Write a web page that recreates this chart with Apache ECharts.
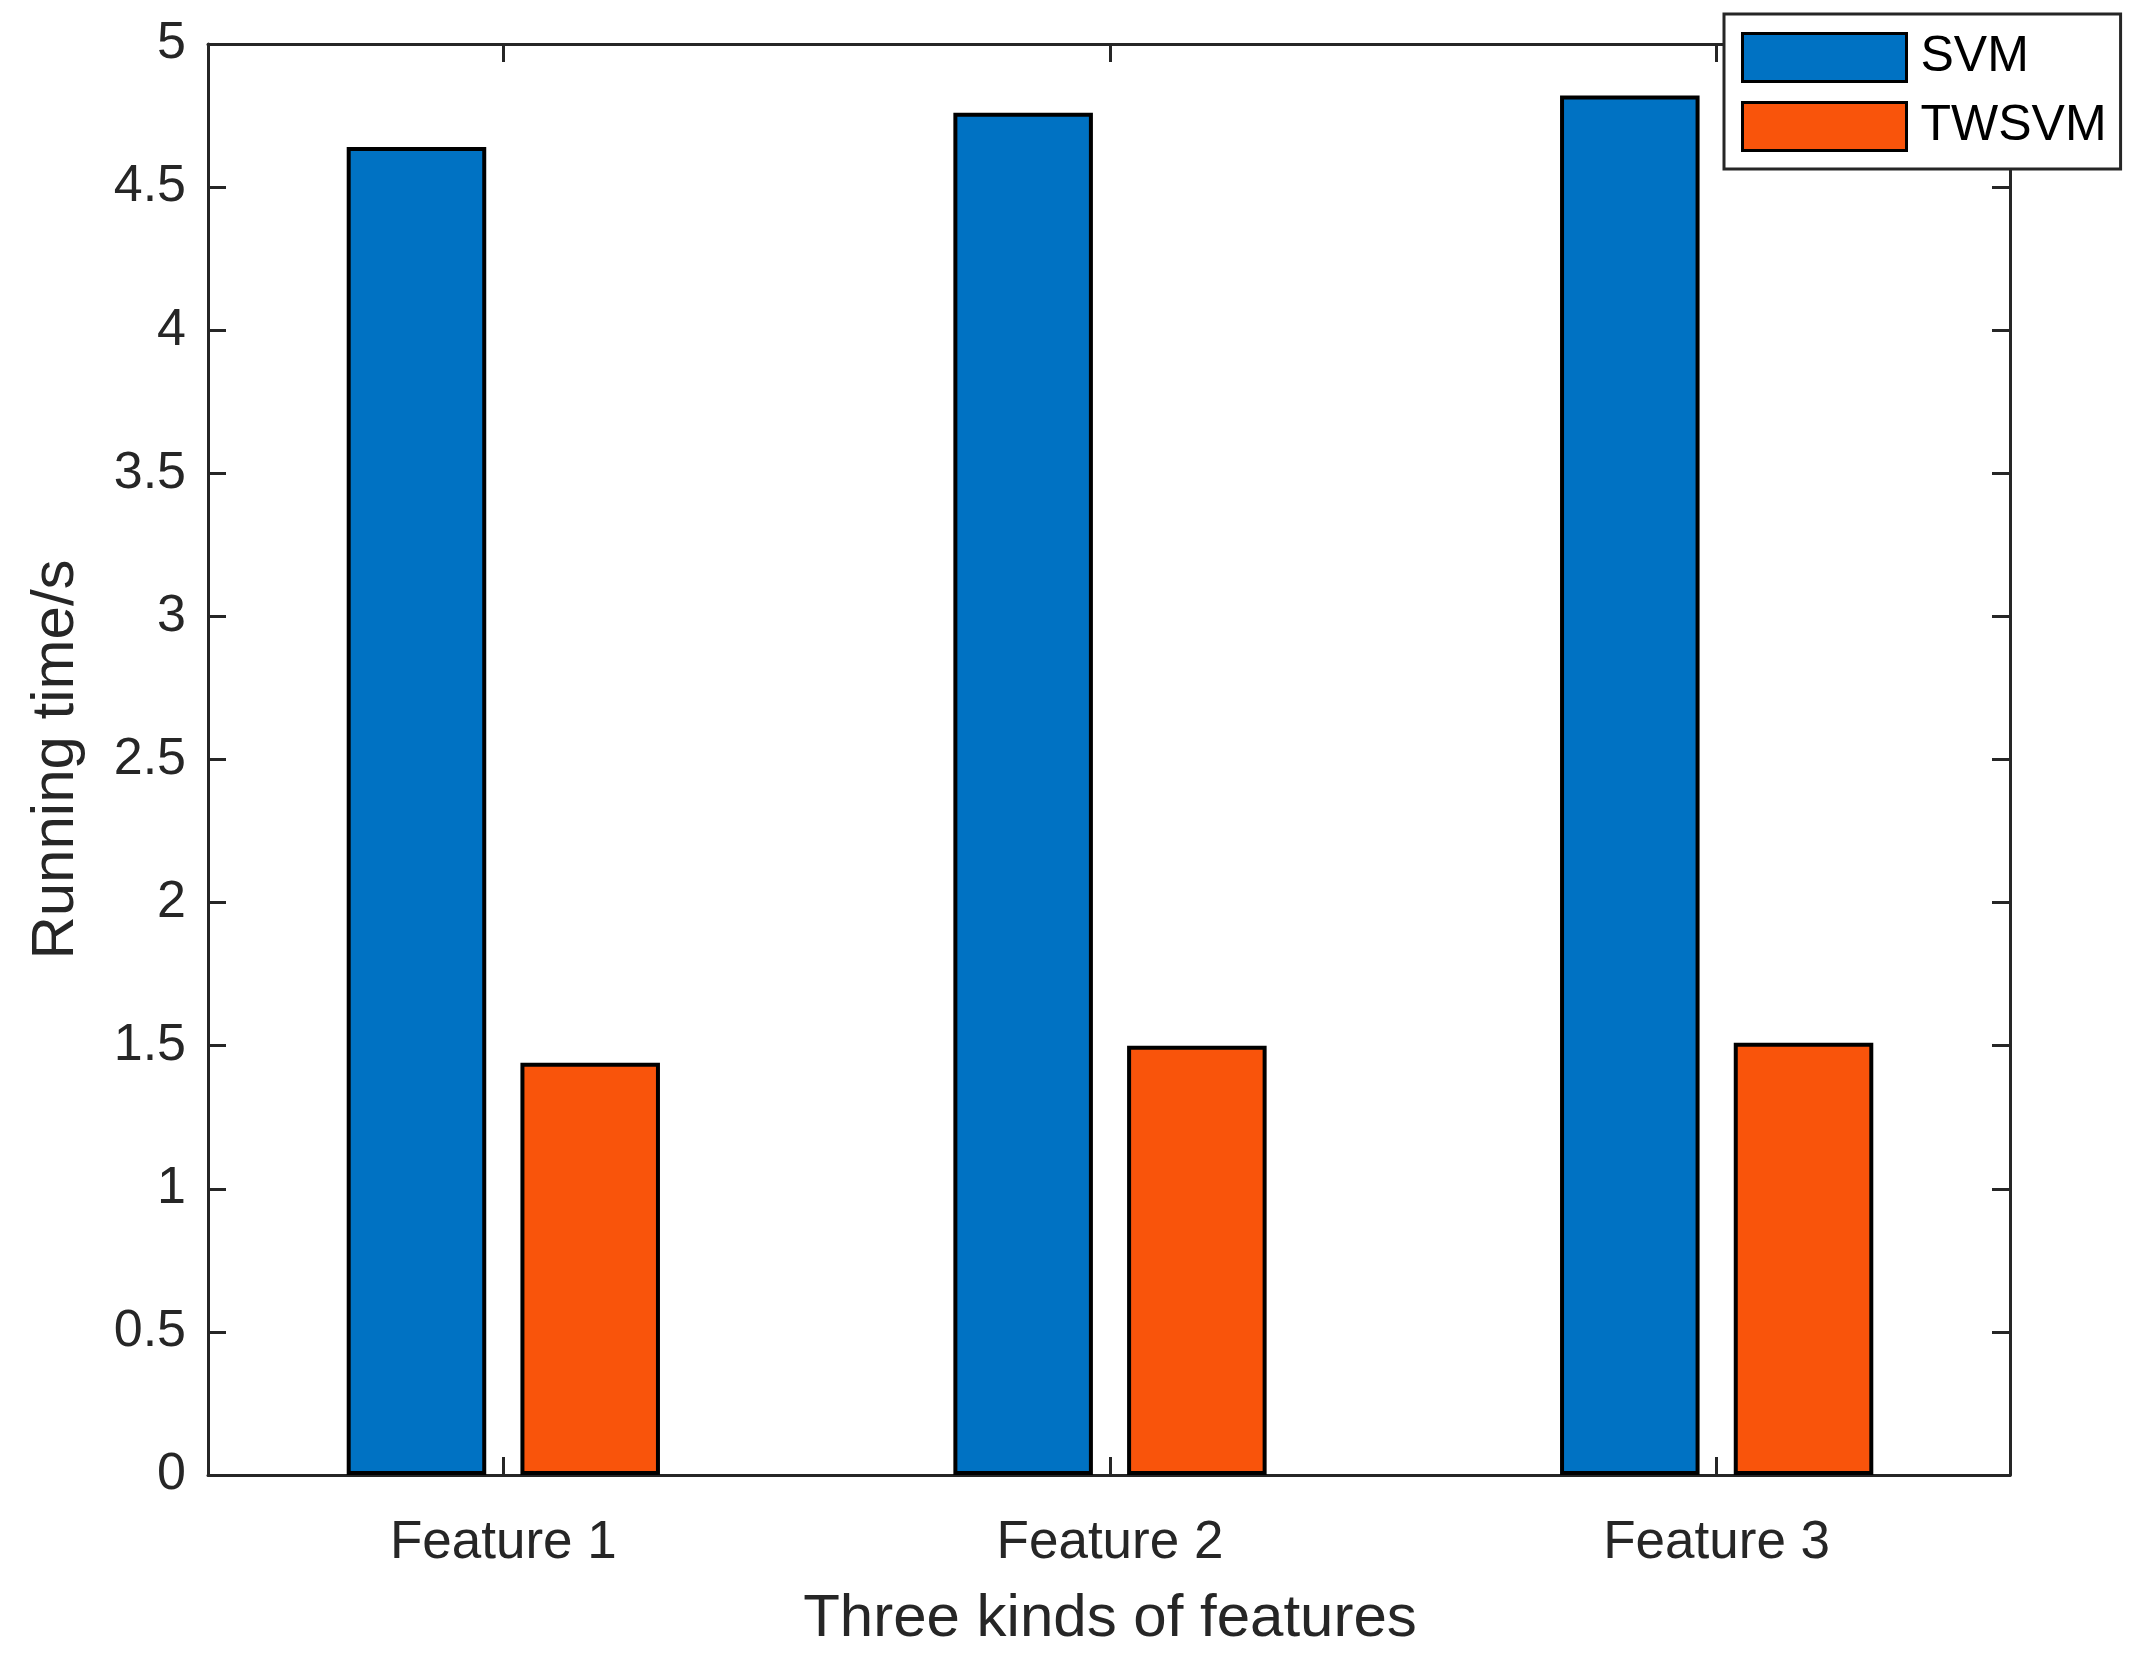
<!DOCTYPE html>
<html>
<head>
<meta charset="utf-8">
<script src="https://cdn.jsdelivr.net/npm/echarts@6/dist/echarts.min.js"></script>
<style>
  html, body { margin: 0; padding: 0; background: #fff; }
  #main { width: 2146px; height: 1662px; }
</style>
</head>
<body>
<div id="main"></div>
<script>
// running time per feature set
var categories = ['Feature 1', 'Feature 2', 'Feature 3'];
var svmTime = [4.64, 4.76, 4.82];
var twsvmTime = [1.44, 1.50, 1.51];
var seriesNames = ['SVM', 'TWSVM'];

var font = ['Liberation Sans', 'Arial', 'sans-serif'];
var axisColor = '#262626';
var tickStyle = { color: axisColor, width: 3 };

var myChart = echarts.init(document.getElementById('main'));

// grid 0 = the axes box, grid 1 = the bars (a bit wider, like matlab xlim)
var option = {
  animation: false,
  textStyle: { fontFamily: font },
  grid: [
    { left: 208, right: 136, top: 44, bottom: 187 },
    { left: 200, right: 126, top: 44, bottom: 187 }
  ],
  legend: {
    data: seriesNames,
    orient: 'vertical',
    left: 1724,
    top: 14,
    padding: [18, 14, 17, 17],
    itemWidth: 164,
    itemHeight: 48,
    itemGap: 18,
    icon: 'rect',
    backgroundColor: '#fff',
    borderColor: axisColor,
    borderWidth: 3,
    itemStyle: { borderColor: '#000', borderWidth: 3 },
    textStyle: { fontSize: 50, color: '#000', padding: [0, 0, 0, 9] }
  },
  xAxis: [
    {
      type: 'category',
      gridIndex: 1,
      data: categories,
      position: 'bottom',
      name: 'Three kinds of features',
      nameLocation: 'middle',
      nameGap: 114,
      nameTextStyle: { fontSize: 60, color: axisColor },
      axisLine: { show: false, onZero: false },
      axisTick: { show: true, alignWithLabel: true, inside: true, length: 18, lineStyle: tickStyle },
      axisLabel: { fontSize: 53, color: axisColor, margin: 42 },
      splitLine: { show: false }
    },
    {
      type: 'category',
      gridIndex: 1,
      data: categories,
      position: 'top',
      axisLine: { show: false, onZero: false },
      axisTick: { show: true, alignWithLabel: true, inside: true, length: 18, lineStyle: tickStyle },
      axisLabel: { show: false },
      splitLine: { show: false }
    },
    {
      type: 'value',
      gridIndex: 0,
      position: 'bottom',
      min: 0,
      max: 1,
      axisLine: { show: true, onZero: false, lineStyle: tickStyle },
      axisTick: { show: false },
      axisLabel: { show: false },
      splitLine: { show: false }
    },
    {
      type: 'value',
      gridIndex: 0,
      position: 'top',
      min: 0,
      max: 1,
      axisLine: { show: true, onZero: false, lineStyle: tickStyle },
      axisTick: { show: false },
      axisLabel: { show: false },
      splitLine: { show: false }
    }
  ],
  yAxis: [
    {
      type: 'value',
      gridIndex: 0,
      min: 0,
      max: 5,
      interval: 0.5,
      position: 'left',
      name: 'Running time/s',
      nameLocation: 'middle',
      nameGap: 122,
      nameTextStyle: { fontSize: 60, color: axisColor },
      axisLine: { show: true, onZero: false, lineStyle: tickStyle },
      axisTick: { show: true, inside: true, length: 18, lineStyle: tickStyle },
      axisLabel: { fontSize: 52, color: axisColor, margin: 22 },
      splitLine: { show: false }
    },
    {
      type: 'value',
      gridIndex: 0,
      min: 0,
      max: 5,
      interval: 0.5,
      position: 'right',
      axisLine: { show: true, onZero: false, lineStyle: tickStyle },
      axisTick: { show: true, inside: true, length: 18, lineStyle: tickStyle },
      axisLabel: { show: false },
      splitLine: { show: false }
    },
    {
      type: 'value',
      gridIndex: 1,
      min: 0,
      max: 5,
      axisLine: { show: false, onZero: false },
      axisTick: { show: false },
      axisLabel: { show: false },
      splitLine: { show: false }
    }
  ],
  series: [
    {
      name: seriesNames[0],
      type: 'bar',
      xAxisIndex: 0,
      yAxisIndex: 2,
      data: svmTime,
      barWidth: '23%',
      barGap: '24.5%',
      itemStyle: { color: '#0072C3', borderColor: '#000', borderWidth: 4 }
    },
    {
      name: seriesNames[1],
      type: 'bar',
      xAxisIndex: 0,
      yAxisIndex: 2,
      data: twsvmTime,
      barWidth: '23%',
      barGap: '24.5%',
      itemStyle: { color: '#F9540B', borderColor: '#000', borderWidth: 4 }
    }
  ]
};

myChart.setOption(option, true);
</script>
</body>
</html>
